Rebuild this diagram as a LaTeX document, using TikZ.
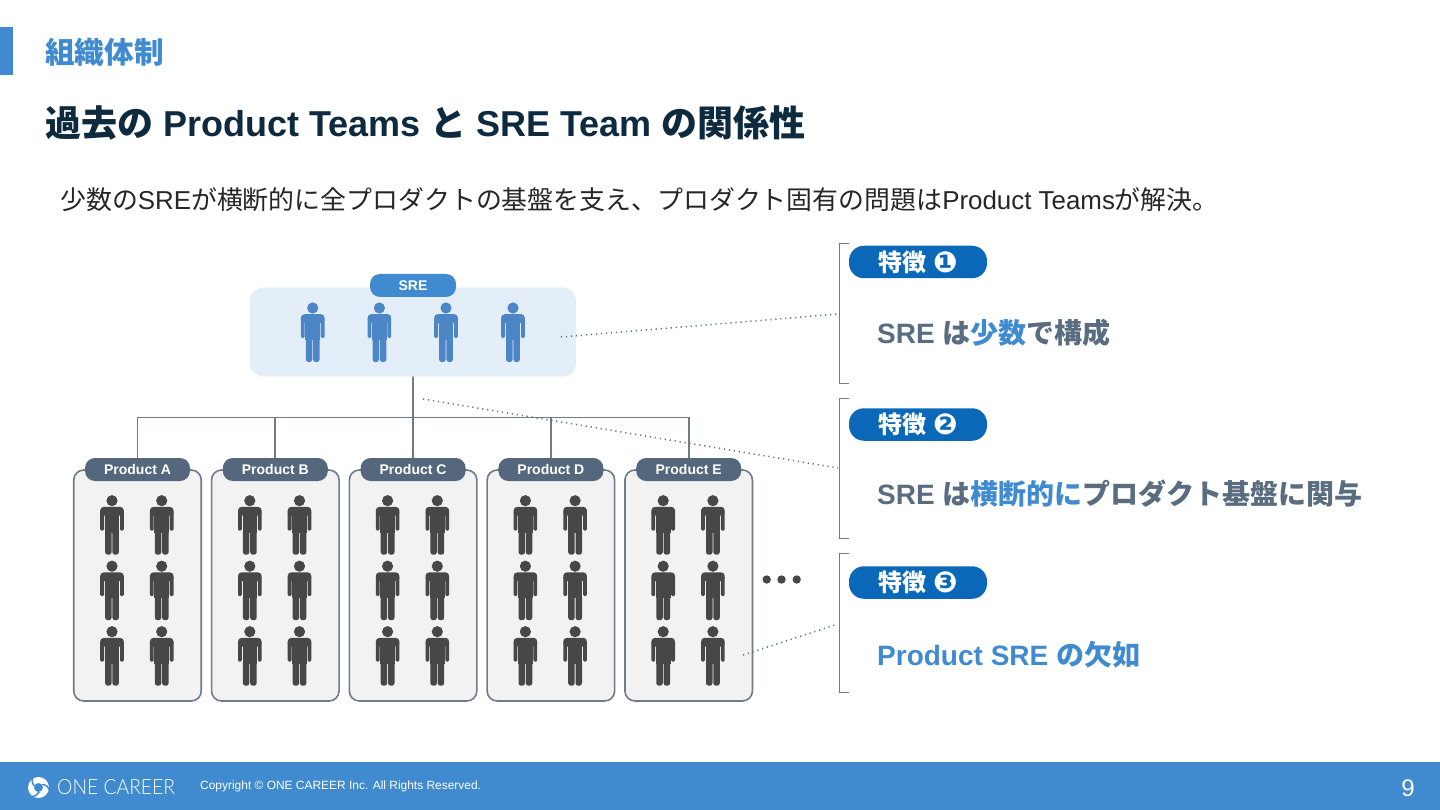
\documentclass[tikz,border=0pt]{standalone}
\usepackage{fontspec}
\setmainfont{Liberation Sans}
\newfontfamily\cjk{Noto Sans CJK JP}
\newfontfamily\dejavu{DejaVu Sans}
\newfontfamily\latofont{Lato Light}
\newcommand{\J}[1]{{\cjk #1}}
\newcommand{\FS}[1]{\fontsize{#1}{#1}\selectfont}
\newcommand{\DG}[1]{\raisebox{-1.2pt}{\dejavu\FS{29}\symbol{#1}}}
\definecolor{blueA}{HTML}{408BD0}
\definecolor{blueB}{HTML}{0B68B8}
\definecolor{navy}{HTML}{0E2A3E}
\definecolor{slate}{HTML}{5A6C80}
\definecolor{pillslate}{HTML}{54677C}
\definecolor{linegray}{HTML}{6F7B8A}
\definecolor{darkp}{HTML}{474747}
\definecolor{srebg}{HTML}{E3EEF8}
\definecolor{boxbg}{HTML}{F2F2F2}
\definecolor{persblue}{HTML}{4C86C6}
\tikzset{
  pics/person/.style={code={
    \fill (0,0) circle (5.6);
    \fill[rounded corners=3.5pt] (-11.8,6.2) rectangle (11.8,15);
    \fill[rounded corners=1.4pt] (-11.8,10) rectangle (-8,30);
    \fill[rounded corners=1.4pt] (8,10) rectangle (11.8,30);
    \fill (-7.3,8) rectangle (7.3,32);
    \fill[rounded corners=2.6pt] (-6.9,28) rectangle (-0.4,54);
    \fill[rounded corners=2.6pt] (0.4,28) rectangle (6.9,54);
  }},
  pillbox/.style={rounded corners=10pt,inner sep=0pt,text=white,font=\bfseries\FS{14}},
  prodbox/.style={draw=linegray,fill=boxbg,line width=1.6pt,rounded corners=10pt,minimum width=127.5pt,minimum height=231pt,inner sep=0pt},
  prodpill/.style={pillbox,fill=pillslate,minimum width=105pt,minimum height=23pt},
  feature/.style={pillbox,fill=blueB,rounded corners=15pt,minimum width=138pt,minimum height=32.5pt,font=\bfseries\FS{24}},
  conn/.style={draw=linegray,line width=1.8pt},
  dots/.style={draw=linegray!90!black,line width=1.5pt,dash pattern=on 1.2pt off 3.8pt},
  bracket/.style={draw=linegray,line width=1.8pt},
  heading/.style={anchor=base west,inner sep=0pt,font=\bfseries\FS{28},text=slate},
}
\begin{document}
\begin{tikzpicture}[x=1pt,y=-1pt]
\useasboundingbox (0,0) rectangle (1440,810);
% header
\fill[blueA] (0,27) rectangle (13,75);
\node[anchor=base west,inner sep=0pt,text=blueA,font=\bfseries\FS{29.6}] (section) at (45,64) {\J{組織体制}};
\node[anchor=base west,inner sep=0pt,text=navy,font=\bfseries\FS{36}] (title) at (45,137) {\J{過去の} Product Teams \J{と} SRE Team \J{の関係性}};
\node[anchor=base west,inner sep=0pt,text=black!85,font=\FS{25.9}] (lead) at (60,210) {\J{少数の}SRE\J{が横断的に全プロダクトの基盤を支え、プロダクト固有の問題は}Product Teams\J{が解決。}};
% SRE group
\node[fill=srebg,rounded corners=13pt,minimum width=326pt,minimum height=89pt,inner sep=0pt] (sre) at (413,332) {};
\node[pillbox,fill=blueA,minimum width=86pt,minimum height=23pt] (srelabel) at (413,285.5) {\raisebox{-0.7pt}{SRE}};
\foreach \px in {312.7,379.4,446,513}
  \pic[color=persblue] at (\px,308) {person};
% products
\coordinate (bus) at (413,417.5);
\foreach \L [count=\i from 0] in {A,B,C,D,E} {
  \pgfmathsetmacro{\cx}{137.5+137.8*\i}
  \node[prodbox] (box\L) at (\cx,585.5) {};
  \node[prodpill] (label\L) at (\cx,469.5) {\raisebox{-0.7pt}{Product \L}};
  \foreach \ry in {500.7,566.2,631.7} {
    \pic[color=darkp] at (\cx-25.5,\ry) {person};
    \pic[color=darkp] at (\cx+24.2,\ry) {person};
  }
}
\draw[conn] (sre.south) -- (labelC.north);
\draw[conn] (labelA.north) -- (labelA.north |- bus) -- (labelE.north |- bus) -- (labelE.north);
\draw[conn] (labelB.north) -- (labelB.north |- bus);
\draw[conn] (labelD.north) -- (labelD.north |- bus);
% ellipsis
\fill[darkp] (766.7,579.5) circle (4.2) (781.5,579.5) circle (4.2) (796.7,579.5) circle (4.2);
% brackets
\coordinate (b1t) at (849,243.5); \coordinate (b1b) at (849,383.5);
\coordinate (b2t) at (849,398.5);   \coordinate (b2b) at (849,538.5);
\coordinate (b3t) at (849,553.5);   \coordinate (b3b) at (849,692.5);
\draw[bracket] (b1t) -- (839.5,243.5) -- (839.5,383.5) -- (b1b);
\draw[bracket] (b2t) -- (839.5,398.5) -- (839.5,538.5) -- (b2b);
\draw[bracket] (b3t) -- (839.5,553.5) -- (839.5,692.5) -- (b3b);
\node[feature] (f1) at (918,262) {\J{特徴} \DG{"2776}};
\node[feature] (f2) at (918,424.5) {\J{特徴} \DG{"2777}};
\node[feature] (f3) at (918,582.5) {\J{特徴} \DG{"2778}};
\node[heading] (t1) at (877,343) {SRE \J{は}{\color{blueA}\J{少数}}\J{で構成}};
\node[heading] (t2) at (877,504) {SRE \J{は}{\color{blueA}\J{横断的に}}\J{プロダクト基盤に関与}};
\node[heading,text=blueA] (t3) at (877,665) {Product SRE \J{の欠如}};
% dotted leaders
\coordinate (d1a) at (561,337); \coordinate (d1b) at (838,314);
\coordinate (d2a) at (423,399); \coordinate (d2b) at (838,468);
\coordinate (d3a) at (743,655); \coordinate (d3b) at (838,624);
\draw[dots] (d1a) -- (d1b);
\draw[dots] (d2a) -- (d2b);
\draw[dots] (d3a) -- (d3b);
% footer
\fill[blueA] (0,762) rectangle (1440,810);
\begin{scope}[shift={(38.5,787.5)}]
  \fill[white,even odd rule] (0,0) circle (10.5) (0,0) circle (4.6);
  \draw[blueA,line width=1.5pt] (-4.2,-1.5) .. controls (-7,-5) and (-7,-8) .. (-5,-11)
    (3.4,-3) .. controls (7,-3) and (10,-1) .. (11,2)
    (0.8,4.5) .. controls (-1,7.5) and (-4,9) .. (-8,9);
\end{scope}
\node[anchor=west,inner sep=0pt,text=white,font=\latofont\FS{21}] (brand) at (57,787.5) {\scalebox{0.92}[1]{ONE CAREER}};
\node[anchor=west,inner sep=0pt,text=white,font=\FS{11.95}] (copy) at (200,786.5) {Copyright © ONE CAREER Inc. All Rights Reserved.};
\node[anchor=center,inner sep=0pt,text=white,font=\FS{24}] (page) at (1408,788.5) {9};
\end{tikzpicture}
\end{document}
